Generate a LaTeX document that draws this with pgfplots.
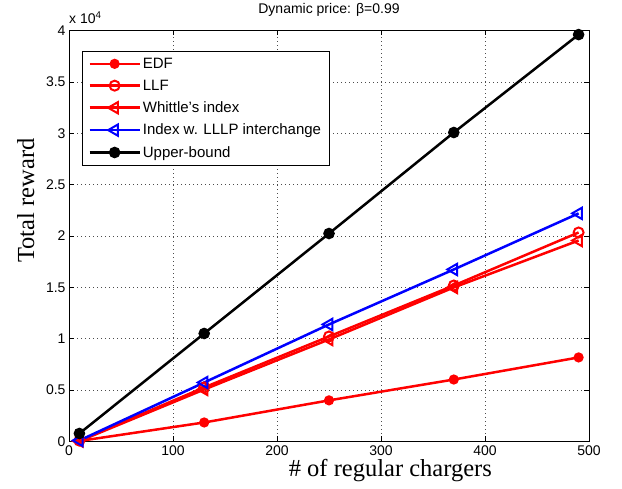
\documentclass[border=0pt]{standalone}
\usepackage{pgfplots}
\pgfplotsset{compat=1.18}
\usepackage{fontspec}
\setmainfont{Liberation Sans}
\newfontfamily\serifl{Liberation Serif}
\begin{document}
\begin{tikzpicture}
\begin{axis}[
  scale only axis, width=520pt, height=411pt,
  xmin=0, xmax=500, ymin=0, ymax=40000,
  xtick={0,100,200,300,400,500},
  ytick={0,5000,10000,15000,20000,25000,30000,35000,40000},
  yticklabels={0,0.5,1,1.5,2,2.5,3,3.5,4},
  scaled y ticks=false,
  tick align=inside, tick pos=both,
  major tick length=5pt,
  tick style={black, line width=0.6pt},
  /pgf/number format/assume math mode=true,
  ticklabel style={font=\fontsize{14}{14}\selectfont},
  xticklabel style={yshift=-1pt},
  grid=major,
  major grid style={black!70, dash pattern=on 0.6pt off 3.4pt, line width=0.5pt},
  axis line style={black, line width=0.8pt},
  title={Dynamic price: β=0.99},
  title style={font=\fontsize{14}{14}\selectfont, at={(axis description cs:0.5,1)}, anchor=base, yshift=11pt},
  xlabel={\serifl \# of regular chargers},
  ylabel={\serifl Total reward},
  xlabel style={font=\fontsize{24.5}{24.5}\selectfont, at={(axis description cs:0.618,-0.0852)}, anchor=base},
  ylabel style={font=\fontsize{24.5}{24.5}\selectfont, at={(axis description cs:-0.0673,0.586)}, anchor=base},
  legend style={font=\fontsize{15}{15}\selectfont, at={(axis description cs:0.025,0.95)}, anchor=north west, draw=black, line width=0.8pt, inner xsep=6pt, inner ysep=4.5pt, row sep=6pt, cells={anchor=west}},
  legend cell align=left,
  legend image code/.code={\draw[#1] (0pt,0pt) -- (50pt,0pt); \draw[#1, only marks] plot coordinates {(25pt,0pt)};},
  every axis plot/.append style={line width=2.5pt},
]
\addplot[red, mark=*, mark size=3.8pt, mark options={solid}] coordinates {(10,50) (130,1850) (250,4000) (370,6030) (490,8180)};
\addlegendentry{EDF}
\addplot[red, mark=o, mark size=5pt, mark options={solid, line width=2pt}] coordinates {(10,80) (130,5260) (250,10220) (370,15180) (490,20340)};
\addlegendentry{LLF}
\addplot[red, mark=triangle, mark size=6.5pt, mark options={solid, rotate=90, line width=2pt}] coordinates {(10,40) (130,5060) (250,9930) (370,14990) (490,19560)};
\addlegendentry{Whittle's index}
\addplot[blue, mark=triangle, mark size=6.5pt, mark options={solid, rotate=90, line width=2pt}] coordinates {(10,100) (130,5740) (250,11390) (370,16740) (490,22200)};
\addlegendentry{Index w. LLLP interchange}
\addplot[black, mark=*, mark size=4.5pt] coordinates {(10,780) (130,10510) (250,20240) (370,30070) (490,39600)};
\addlegendentry{Upper{-}bound}
\end{axis}
\node[anchor=base west, font=\fontsize{14}{14}\selectfont, inner sep=0pt] at ([yshift=7pt]current axis.north west) {x 10\textsuperscript{4}};
\path ([xshift=-69pt, yshift=-47pt]current axis.south west) rectangle ([xshift=33pt, yshift=29pt]current axis.north east);
\end{tikzpicture}
\end{document}
